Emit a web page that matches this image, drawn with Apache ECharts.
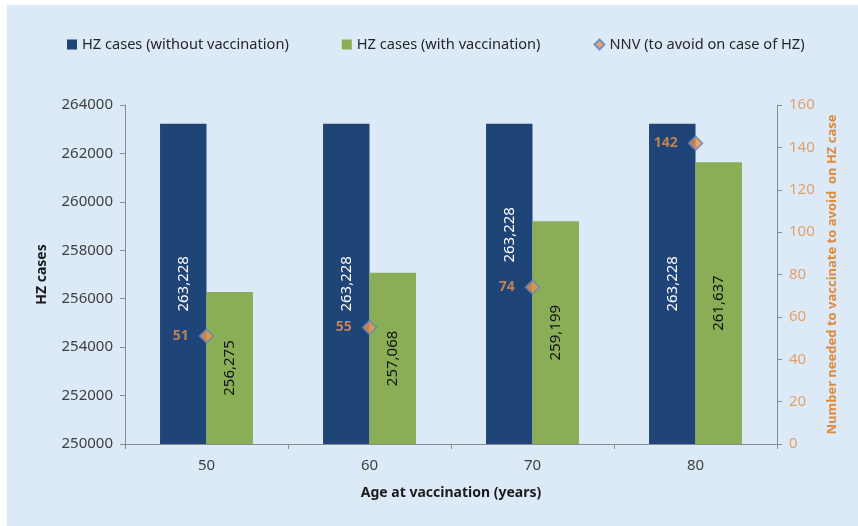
<!DOCTYPE html>
<html>
<head>
<meta charset="utf-8">
<script src="https://cdn.jsdelivr.net/npm/echarts@6/dist/echarts.min.js"></script>
<style>
html,body{margin:0;padding:0;background:#ffffff;}
#chart{position:absolute;left:7px;top:5px;width:851px;height:521px;}
</style>
</head>
<body>
<div id="chart"></div>
<script>
var ages = ['50', '60', '70', '80'];
var casesWithout = [263228, 263228, 263228, 263228];
var casesWith = [256275, 257068, 259199, 261637];
var nnv = [51, 55, 74, 142];
var leftTicks = {min: 250000, max: 264000, interval: 2000};
var rightTicks = {min: 0, max: 160, interval: 20};

var FONT = 'Noto Sans';
var chart = echarts.init(document.getElementById('chart'));
function fmt(v){ return Number(v).toLocaleString('en-US'); }
// the third blue label is moved up in the original to clear the diamond marker
var withoutData = casesWithout.map(function(v, i){
  return i === 2 ? {value: v, label: {offset: [49, 0]}} : v;
});
chart.setOption({
  backgroundColor: '#dceaf7',
  textStyle: {fontFamily: FONT},
  legend: {
    top: 27, left: 55, itemGap: 53, itemWidth: 10, itemHeight: 10,
    textStyle: {fontFamily: FONT, fontSize: 14.6, color: '#262626'},
    data: [
      {name: 'HZ cases (without vaccination)', icon: 'rect'},
      {name: 'HZ cases (with vaccination)', icon: 'rect'},
      {name: 'NNV (to avoid on case of HZ)', icon: 'diamond'}
    ]
  },
  grid: {left: 118, right: 81, top: 100, bottom: 82, containLabel: false},
  xAxis: {
    type: 'category', data: ages,
    name: 'Age at vaccination (years)', nameLocation: 'middle', nameGap: 42,
    nameTextStyle: {fontFamily: FONT, fontWeight: 'bold', fontSize: 14, color: '#1a1a1a'},
    axisLine: {lineStyle: {color: '#8c8c8c'}},
    axisTick: {show: true, length: 5, lineStyle: {color: '#8c8c8c'}},
    axisLabel: {fontSize: 15, color: '#404040', margin: 14}
  },
  yAxis: [{
    type: 'value', min: leftTicks.min, max: leftTicks.max, interval: leftTicks.interval,
    name: 'HZ cases', nameLocation: 'middle', nameGap: 76,
    nameTextStyle: {fontFamily: FONT, fontWeight: 'bold', fontSize: 14, color: '#1a1a1a'},
    axisLine: {show: true, lineStyle: {color: '#8c8c8c'}},
    axisTick: {show: true, length: 5, lineStyle: {color: '#8c8c8c'}},
    axisLabel: {fontSize: 15, color: '#404040', margin: 12, formatter: function(v){ return String(v); }},
    splitLine: {show: false}
  }, {
    type: 'value', min: rightTicks.min, max: rightTicks.max, interval: rightTicks.interval,
    position: 'right',
    name: 'Number needed to vaccinate to avoid  on HZ case', nameLocation: 'middle', nameGap: 44,
    nameRotate: 90,
    nameTextStyle: {fontFamily: FONT, fontWeight: 'bold', fontSize: 13, color: '#e08a3c'},
    axisLine: {show: true, lineStyle: {color: '#7f8c99'}},
    axisTick: {show: true, length: 5, inside: false, lineStyle: {color: '#7f8c99'}},
    axisLabel: {fontSize: 15, color: '#e2a06a', margin: 12},
    splitLine: {show: false}
  }],
  series: [{
    name: 'HZ cases (without vaccination)', type: 'bar', data: withoutData,
    barGap: '0%', barCategoryGap: '43%',
    itemStyle: {color: '#1f4477'},
    label: {show: true, position: 'inside', rotate: 90, color: '#ffffff', fontSize: 15,
      formatter: function(p){ return fmt(p.value); }}
  }, {
    name: 'HZ cases (with vaccination)', type: 'bar', data: casesWith,
    itemStyle: {color: '#8aae55'},
    label: {show: true, position: 'inside', rotate: 90, color: '#111111', fontSize: 15,
      formatter: function(p){ return fmt(p.value); }}
  }, {
    name: 'NNV (to avoid on case of HZ)', type: 'scatter', yAxisIndex: 1, data: nnv,
    symbol: 'diamond', symbolSize: 14,
    itemStyle: {color: '#e8914a', borderColor: '#5b84c4', borderWidth: 1.5},
    label: {show: true, position: 'left', distance: 10, color: '#e8914a', fontWeight: 'bold', fontSize: 14}
  }]
});
</script>
</body>
</html>
